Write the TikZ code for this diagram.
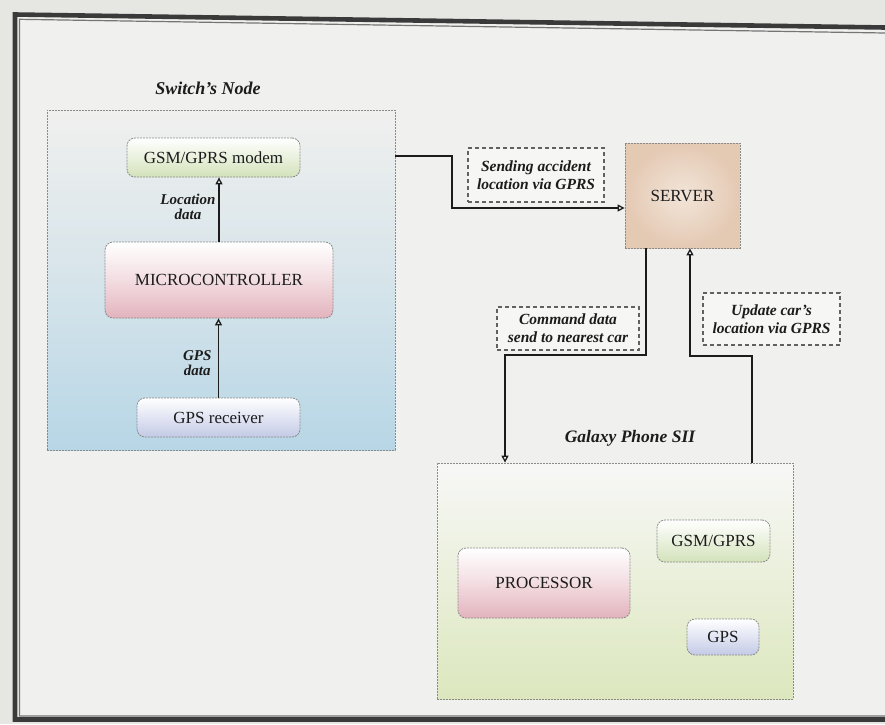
\documentclass[tikz,border=0pt]{standalone}
\usepackage{fontspec}
\setmainfont{Liberation Serif}
\usetikzlibrary{arrows.meta}
\definecolor{paper}{HTML}{E6E6E3}
\definecolor{sheet}{HTML}{F0F0EE}
\definecolor{ink}{HTML}{1C1C1C}
\definecolor{frameink}{HTML}{3A3A3A}
\definecolor{edge}{HTML}{8A8A88}
\definecolor{skyblue}{HTML}{B7D6E6}
\definecolor{leaf}{HTML}{D3E2BA}
\definecolor{rose}{HTML}{E3B3BD}
\definecolor{lilac}{HTML}{C3CAE6}
\definecolor{tan}{HTML}{E4C9B3}
\definecolor{tanlight}{HTML}{F2E5D9}
\definecolor{phonegreen}{HTML}{DCE7BE}
\tikzset{
  area/.style={draw=edge, line width=0.8pt, dash pattern=on 2pt off 1pt, inner sep=0pt},
  part/.style={area, rounded corners=8pt, align=center, text=ink,
    font=\fontsize{17}{19}\selectfont},
  tag/.style={draw=frameink!80, line width=1.2pt, dash pattern=on 4pt off 3pt,
    fill=sheet!60!white, align=center, text=ink, inner sep=0pt,
    font=\fontsize{15.5}{18}\selectfont\bfseries\itshape},
  caption/.style={text=ink, font=\fontsize{18}{20}\selectfont\bfseries\itshape},
  small/.style={text=ink, align=center, font=\fontsize{15}{15.5}\selectfont\bfseries\itshape},
  link/.style={draw=ink, line width=1.6pt},
  arr/.style={link, -{Triangle[open, width=7pt, length=7pt, line width=1.3pt]}},
}
\begin{document}
\begin{tikzpicture}[x=1pt, y=-1pt]
  % paper and frame
  \fill[paper] (0,0) rectangle (885,724);
  \fill[sheet] (15,14.5) -- (885,27) -- (885,720) -- (15,720) -- cycle;
  \useasboundingbox (0,0) rectangle (885,724);
  \draw[frameink, line width=4.6pt] (885,27.5) -- (15,14.5) -- (15,719.5) -- (885,719.5);
  \draw[frameink!70, line width=1.2pt] (885,33) -- (19.5,19.3) -- (19.5,716) -- (885,716);

  % switch's node
  \node[caption] (swcap) at (208,88) {Switch's Node};
  \node[area, minimum width=348pt, minimum height=340pt,
        top color=sheet, bottom color=skyblue, middle color=skyblue!45!sheet]
        (switch) at (221,280) {};
  \node[part, minimum width=173pt, minimum height=39pt,
        top color=white, bottom color=leaf] (modem) at (213.5,157.5) {GSM/GPRS modem};
  \node[part, minimum width=228pt, minimum height=76pt,
        top color=white, bottom color=rose, middle color=rose!45!white] (mcu) at (219,280) {MICROCONTROLLER};
  \node[part, minimum width=163pt, minimum height=39pt,
        top color=white, bottom color=lilac] (gpsrx) at (218.5,417.5) {GPS receiver};
  \draw[arr] (mcu.north) -- (mcu.north |- modem.south);
  \draw[arr] (gpsrx.north) -- (gpsrx.north |- mcu.south);
  \node[small, anchor=east] (locdata) at (219,207) {Location\\data};
  \node[small, anchor=east] (gpsdata) at (215,363) {GPS\\data};

  % server
  \node[area, minimum width=115pt, minimum height=105pt,
        shading=radial, inner color=tanlight, outer color=tan,
        text=ink, font=\fontsize{17}{19}\selectfont] (server) at (682.5,195.5) {SERVER};

  % phone
  \node[caption, font=\fontsize{17.5}{20}\selectfont\bfseries\itshape] (phonecap) at (630,438) {Galaxy Phone SII};
  \node[area, minimum width=356pt, minimum height=236pt,
        top color=sheet!50!white, bottom color=phonegreen] (phone) at (615,581) {};
  \node[part, minimum width=172pt, minimum height=70pt,
        top color=white, bottom color=rose, middle color=rose!45!white] (proc) at (544,583) {PROCESSOR};
  \node[part, minimum width=113pt, minimum height=42pt,
        top color=white, bottom color=leaf] (gsm) at (713.5,541) {GSM/GPRS};
  \node[part, minimum width=72pt, minimum height=36pt,
        top color=white, bottom color=lilac] (gps) at (723,637) {GPS};

  % labelled links
  \node[tag, minimum width=136pt, minimum height=54pt] (tagsend) at (536,175)
    {Sending accident\\location via GPRS};
  \node[tag, minimum width=142pt, minimum height=43pt] (tagcmd) at (568,328.5)
    {Command data\\send to nearest car};
  \node[tag, minimum width=137pt, minimum height=52pt] (tagupd) at (771.5,319)
    {Update car's\\location via GPRS};

  \draw[arr] (switch.east |- 0,156) -- (452,156) |- (server.west |- 0,208);
  \draw[arr] (server.south -| 646,0) -- (646,355) -| (phone.north -| 505,0);
  \draw[arr] (phone.north -| 752,0) -- (752,356) -| (server.south -| 690,0);
\end{tikzpicture}
\end{document}
